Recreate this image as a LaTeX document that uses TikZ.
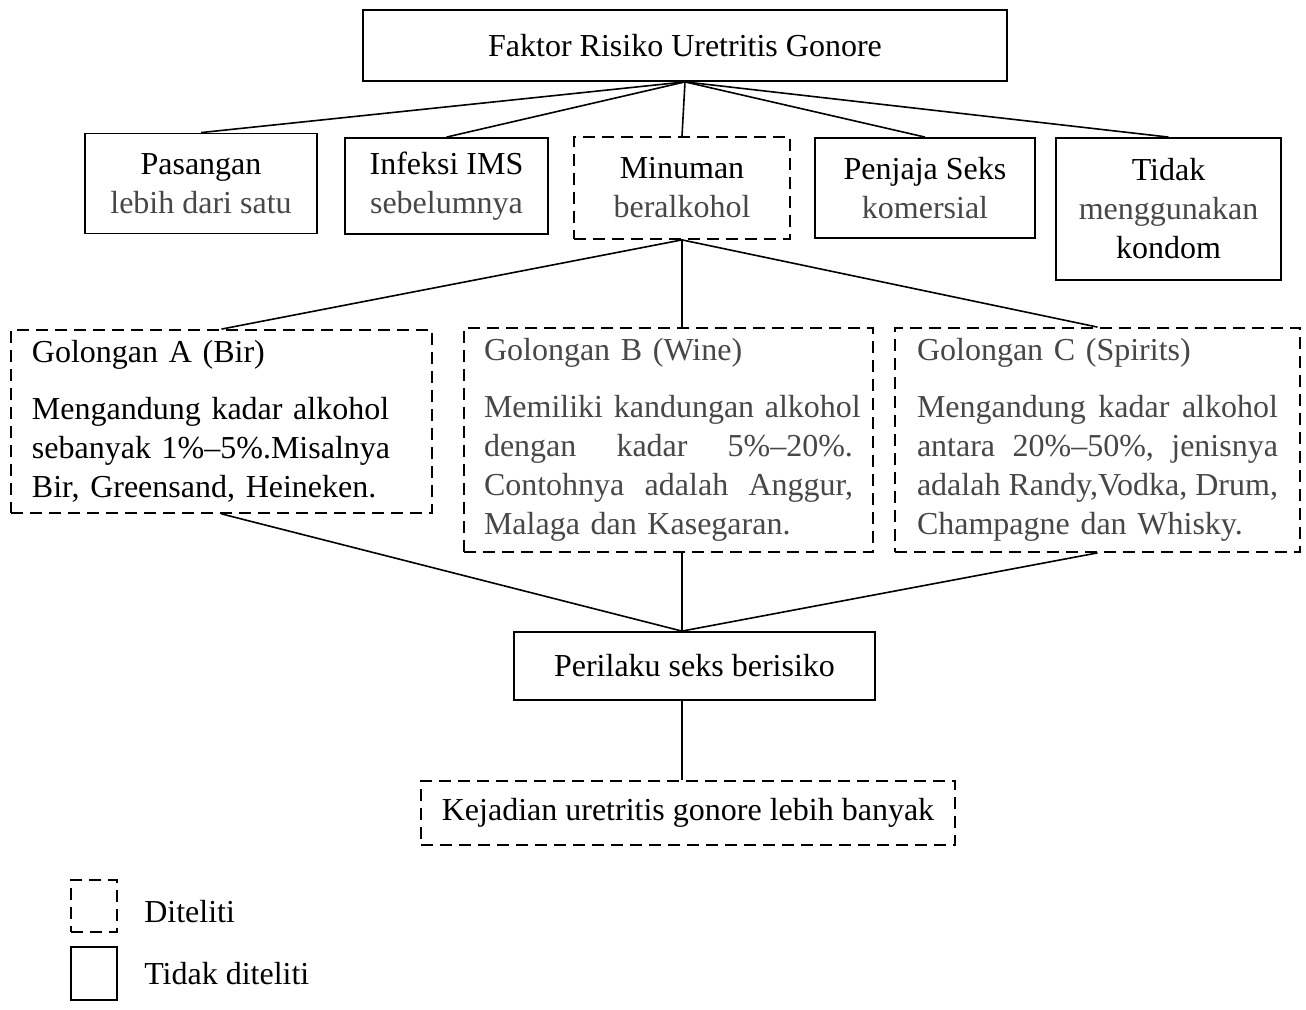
\documentclass[tikz,border=0pt]{standalone}
\usepackage{fontspec}
\setmainfont{Liberation Serif}
\usetikzlibrary{positioning}
\colorlet{inkgray}{black!72}
\newcommand{\jline}[2]{\leavevmode\hbox to #1{#2}}

\begin{document}
\begin{tikzpicture}[x=0.5pt,y=-0.5pt,
	box/.style={draw,line width=0.9pt,align=center,inner sep=0pt,font=\fontsize{16}{19.5}\selectfont},
	dbox/.style={box,dash pattern=on 6pt off 3.5pt},
	golbox/.style={dbox,align=left,inner ysep=0pt},
	lbl/.style={inner sep=0pt,font=\fontsize{16}{19.5}\selectfont},
	link/.style={line width=0.8pt}]
	\useasboundingbox (0,0) rectangle (1306,1010);

	% faktor risiko
	\node[box,minimum width=322pt,minimum height=35.5pt] (faktor) at (685,45.5) {Faktor Risiko Uretritis Gonore};
	\node[box,minimum width=116pt,minimum height=50pt] (pasangan) at (201,183.5) {Pasangan\\{\color{inkgray}lebih dari satu}};
	\node[box,minimum width=101.5pt,minimum height=48pt] (infeksi) at (446.5,186) {Infeksi IMS\\{\color{inkgray}sebelumnya}};
	\node[dbox,minimum width=108pt,minimum height=51pt] (minuman) at (682,188) {Minuman\\{\color{inkgray}beralkohol}};
	\node[box,minimum width=110pt,minimum height=50pt] (penjaja) at (925,188) {Penjaja Seks\\{\color{inkgray}komersial}};
	\node[box,minimum width=112.5pt,minimum height=71pt] (tidak) at (1168.5,209) {Tidak\\{\color{inkgray}menggunakan}\\kondom};

	\foreach \n in {pasangan,infeksi,minuman,penjaja,tidak}
		\draw[link] (faktor.south) -- (\n.north);

	% golongan
	\node[golbox,inner xsep=10.5pt,text width=189.5pt,minimum height=91.5pt] (golA) at (221.5,421.5)
		{Golongan A (Bir)\\[9pt]
		Mengandung kadar alkohol\\
		sebanyak 1\%--5\%.Misalnya\\
		Bir, Greensand, Heineken.};
	\node[golbox,text=inkgray,inner xsep=10pt,text width=184.5pt,minimum height=112pt] (golB) at (668.5,440)
		{Golongan B (Wine)\\[9pt]
		\jline{184.5pt}{Memiliki kandungan alkohol}\\
		\jline{184.5pt}{dengan\hfil kadar\hfil 5\%--20\%.}\\
		\jline{184.5pt}{Contohnya\hfil adalah\hfil Anggur,}\\
		Malaga dan Kasegaran.};
	\node[golbox,text=inkgray,inner xsep=11pt,text width=180.5pt,minimum height=112pt] (golC) at (1097.5,440)
		{Golongan C (Spirits)\\[9pt]
		\jline{180.5pt}{Mengandung\hfil kadar\hfil alkohol}\\
		\jline{180.5pt}{antara\hfil 20\%--50\%,\hfil jenisnya}\\
		\jline{180.5pt}{adalah\hfil Randy,Vodka,\hfil Drum,}\\
		Champagne dan Whisky.};

	\draw[link] (minuman.south) -- (golA.north);
	\draw[link] (minuman.south) -- (golB.north -| minuman.south);
	\draw[link] (minuman.south) -- (golC.north);

	% perilaku dan kejadian
	\node[box,minimum width=180.5pt,minimum height=34pt] (perilaku) at (694.5,666) {Perilaku seks berisiko};
	\node[dbox,minimum width=267pt,minimum height=32pt] (kejadian) at (688,813) {Kejadian uretritis gonore lebih banyak};

	\coordinate (merge) at (perilaku.north -| minuman.south);
	\draw[link] (golA.south) -- (merge);
	\draw[link] (golB.south -| merge) -- (merge);
	\draw[link] (golC.south) -- (merge);
	\draw[link] (perilaku.south -| merge) -- (kejadian.north -| merge);

	% keterangan
	\node[dbox,minimum width=23pt,minimum height=26pt] (legDash) at (94,906) {};
	\node[lbl,right=13pt of legDash,yshift=-3pt] (legDashTxt) {Diteliti};
	\node[box,minimum width=23pt,minimum height=26.5pt] (legSolid) at (94,973.5) {};
	\node[lbl,right=13pt of legSolid] (legSolidTxt) {Tidak diteliti};
\end{tikzpicture}
\end{document}
